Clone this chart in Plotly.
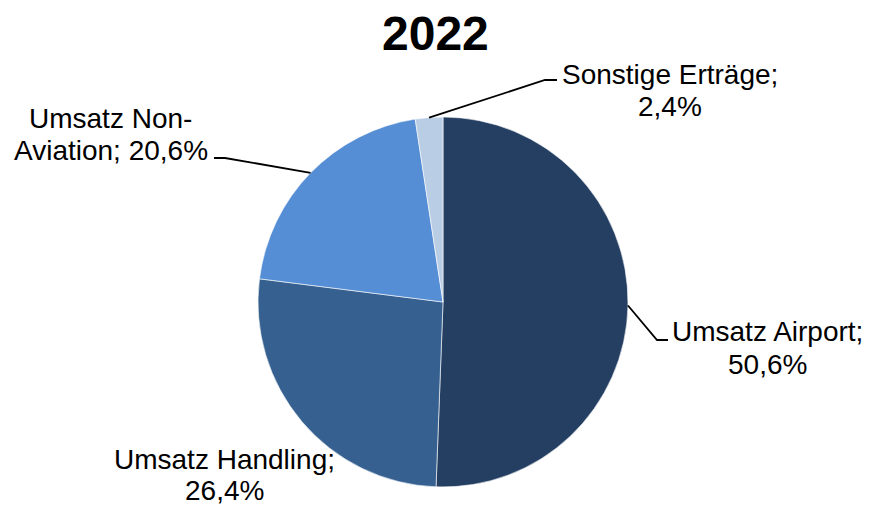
import math
import plotly.graph_objects as go

# ---- data ----
labels = ["Umsatz Airport", "Umsatz Handling", "Umsatz Non-Aviation", "Sonstige Erträge"]
label_lines = [["Umsatz Airport;", "50,6%"], ["Umsatz Handling;", "26,4%"],
               ["Umsatz Non-", "Aviation; 20,6%"], ["Sonstige Erträge;", "2,4%"]]
values = [50.6, 26.4, 20.6, 2.4]
colors = ["#253F62", "#35608F", "#558ED5", "#B9CDE5"]
title = "2022"

# ---- layout constants (pixels) ----
W, H = 872, 507
cx, cy, R = 443, 302, 185
# label centre x and the y of each text line (None = sit on bottom edge), leader elbows
label_pos = [(767, [331, 364]), (224, [459, None]), (111, [119, 151]), (670, [75, 107])]
elbows = [[(657, 340), (668, 340)], None, [(225, 158), (214, 158)], [(545, 80), (557, 80)]]
FONT = "Liberation Sans, Arial, sans-serif"

def px(x):
    return x / W

def py(y):
    return 1 - y / H

fig = go.Figure(go.Pie(
    labels=labels, values=values, sort=False, direction="clockwise", rotation=0,
    marker=dict(colors=colors, line=dict(color="white", width=0.6)),
    textinfo="none", hoverinfo="label+percent", showlegend=False,
    domain=dict(x=[px(cx - R), px(cx + R)], y=[py(cy + R), py(cy - R)]),
))

total = sum(values)
cum = 0.0
shapes, annos = [], []
for i, v in enumerate(values):
    mid = (cum + v / 2) / total * 2 * math.pi
    cum += v
    ax = cx + R * math.sin(mid)
    ay = cy - R * math.cos(mid)
    if elbows[i]:
        pts = [(ax, ay)] + elbows[i]
        path = "M " + " L ".join(f"{px(x):.5f},{py(y):.5f}" for x, y in pts)
        shapes.append(dict(type="path", xref="paper", yref="paper", path=path,
                           line=dict(color="black", width=1.8)))
    lx, lys = label_pos[i]
    for line, ly in zip(label_lines[i], lys):
        if ly is None:
            yv, ya = 0, "bottom"
        else:
            yv, ya = py(ly), "middle"
        annos.append(dict(text=line, x=px(lx), y=yv, xref="paper", yref="paper",
                          showarrow=False, xanchor="center", yanchor=ya, align="center",
                          borderpad=0,
                          font=dict(family=FONT, size=28, color="black")))

annos.append(dict(text=f"<b>{title}</b>", x=px(435), y=py(33), xref="paper", yref="paper",
                  showarrow=False, xanchor="center", yanchor="middle",
                  font=dict(family=FONT, size=48, color="black")))

fig.update_layout(width=W, height=H, margin=dict(l=0, r=0, t=0, b=0),
                  paper_bgcolor="white", plot_bgcolor="white",
                  shapes=shapes, annotations=annos)
fig.write_html("out.html", config={"displayModeBar": False})

# remove the default page margin so the figure fills the window exactly
with open("out.html", encoding="utf-8") as f:
    html = f.read()
html = html.replace("<head>", "<head><style>html,body{margin:0;padding:0;overflow:hidden}</style>", 1)
with open("out.html", "w", encoding="utf-8") as f:
    f.write(html)
